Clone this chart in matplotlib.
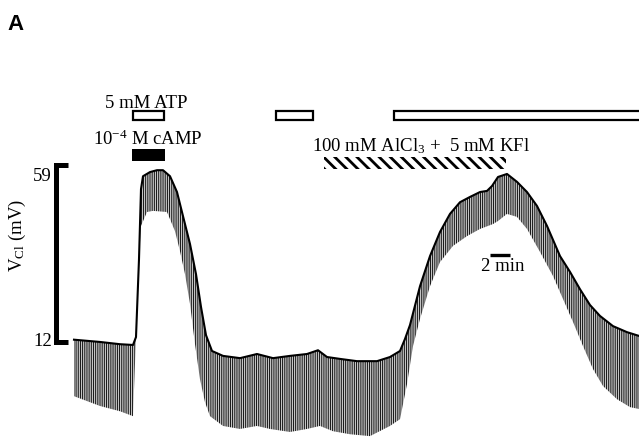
import numpy as np
import matplotlib
matplotlib.use("Agg")
import matplotlib.pyplot as plt
from matplotlib.patches import Rectangle

plt.rcParams["font.family"] = ["Liberation Serif", "DejaVu Serif"]
plt.rcParams["mathtext.fontset"] = "custom"
plt.rcParams["mathtext.rm"] = "Liberation Serif"
plt.rcParams["mathtext.default"] = "regular"
plt.rcParams["hatch.linewidth"] = 0.8

# upper envelope of the V_Cl trace (time in min, mV)
t_upper = [0.0, 2.6, 4.6, 5.9, 6.2, 6.5, 6.7, 6.9, 7.6, 8.3, 8.9, 9.6, 10.3, 10.9,
           11.6, 12.2, 12.7, 13.2, 13.8, 14.9, 16.6, 18.3, 19.9, 21.6, 23.3, 24.4,
           25.3, 26.6, 28.3, 30.3, 31.6, 32.6, 33.1, 33.6, 34.6, 35.6, 36.6, 37.6,
           38.6, 39.6, 40.6, 41.3, 41.8, 42.4, 43.3, 44.3, 45.3, 46.3, 47.3, 48.6,
           49.6, 50.6, 51.6, 52.6, 53.9, 55.3, 56.5]
v_upper = [12.5, 11.9, 11.3, 11.1, 13.2, 33.9, 52.5, 55.9, 57.0, 57.5, 57.5, 55.9, 51.7, 45.3,
           37.9, 29.9, 21.2, 13.7, 9.5, 8.2, 7.6, 8.7, 7.6, 8.2, 8.7, 9.7,
           7.9, 7.4, 6.8, 6.8, 7.9, 9.5, 12.7, 16.4, 26.7, 34.7, 41.1, 45.9,
           49.0, 50.4, 51.7, 52.0, 53.3, 55.7, 56.5, 54.4, 51.7, 48.0, 42.7, 34.7,
           30.5, 25.9, 21.7, 18.8, 16.1, 14.5, 13.5]

# lower envelope (bottom of the oscillations)
t_lower = [0.0, 2.6, 4.6, 5.9, 6.2, 6.5, 6.7, 7.3, 7.9, 9.3, 9.6, 10.1, 10.6, 11.1,
           11.6, 12.1, 12.6, 13.1, 13.6, 14.9, 16.6, 18.3, 19.6, 21.6, 23.3, 24.6,
           25.9, 27.6, 29.6, 31.6, 32.6, 33.0, 33.3, 33.9, 34.6, 35.6, 36.6, 37.9,
           39.3, 40.6, 41.9, 42.4, 43.3, 44.3, 45.3, 46.6, 47.9, 48.9, 49.9, 50.9,
           51.9, 52.9, 54.3, 55.6, 56.5]
v_lower = [-2.5, -5.1, -6.5, -7.8, 13.2, 33.9, 42.7, 46.4, 46.7, 46.4, 44.5, 41.3, 36.0, 29.9,
           22.0, 11.3, 2.0, -4.1, -7.8, -10.4, -11.2, -10.4, -11.2, -12.0, -11.2, -10.4,
           -11.8, -12.6, -13.1, -10.4, -8.6, -3.3, 0.7, 10.8, 18.0, 26.7, 33.1, 37.4,
           40.0, 41.9, 43.2, 44.0, 45.9, 45.1, 41.9, 35.8, 29.4, 23.3, 17.2, 10.8,
           4.7, 0.2, -3.3, -5.4, -5.9]

# drug applications (start, end in min)
atp_periods = [(5.9, 9.0), (20.2, 23.9), (32.0, 70.0)]
camp_period = (5.8, 9.1)
alcl3_period = (25.0, 43.2)

fig = plt.figure(figsize=(6.39, 4.39), dpi=100)
ax = fig.add_axes([0, 0, 1, 1])
ax.set_xlim(-7.4, 56.5)
ax.set_ylim(-13.6, 102.95)
ax.axis("off")


def px(x, y):
    return x / 639, 1 - y / 439


# trace: hatched band between envelopes, thick upper line
ax.fill(np.r_[t_upper, t_lower[::-1]], np.r_[v_upper, v_lower[::-1]],
        facecolor="white", edgecolor="#1c1c1c", linewidth=0, hatch="|" * 9)
ax.plot(t_upper, v_upper, color="black", lw=1.5, solid_joinstyle="round")

# bars
for a, b in atp_periods:
    ax.add_patch(Rectangle((a, 70.9), b - a, 2.4, facecolor="white",
                           edgecolor="black", lw=1.6))
ax.add_patch(Rectangle((camp_period[0], 59.9), camp_period[1] - camp_period[0], 3.2,
                       facecolor="black", edgecolor="black", lw=0))
with plt.rc_context({"hatch.linewidth": 2.0}):
    striped = Rectangle((alcl3_period[0], 57.8), alcl3_period[1] - alcl3_period[0], 3.2,
                        facecolor="white", edgecolor="black", lw=0, hatch="\\" * 3)
if hasattr(striped, "set_hatch_linewidth"):
    striped.set_hatch_linewidth(2.0)
ax.add_patch(striped)

# mV scale bar 12..59
ax.plot([-0.6, -1.85, -1.85, -0.6], [59, 59, 12, 12], color="black", lw=3.6,
        solid_joinstyle="miter", solid_capstyle="butt")
# 2 min scale bar
ax.plot([41.6, 43.6], [35.1, 35.1], color="black", lw=2.4, solid_capstyle="butt")

fs = 13.5
fig.text(*px(7, 30), "A", family="Liberation Sans", fontweight="bold", fontsize=16,
         ha="left", va="baseline")
fig.text(*px(146.5, 108), "5 mM ATP", fontsize=fs, ha="center", va="baseline")
fig.text(*px(147.5, 145), r"10$^{-4}$ M cAMP", fontsize=fs, ha="center", va="baseline")
fig.text(*px(421, 151.5), r"100 mM AlCl$_3$ +  5 mM KFl", fontsize=fs, ha="center",
         va="baseline")
fig.text(*px(52, 181.5), "59", fontsize=fs, ha="right", va="baseline")
fig.text(*px(52, 346.5), "12", fontsize=fs, ha="right", va="baseline")
fig.text(*px(17, 236), r"V$_{Cl}$ (mV)", fontsize=fs, rotation=90, ha="center", va="center")
fig.text(*px(502.5, 271), "2 min", fontsize=fs, ha="center", va="baseline")

fig.savefig("out.png", dpi=100)
